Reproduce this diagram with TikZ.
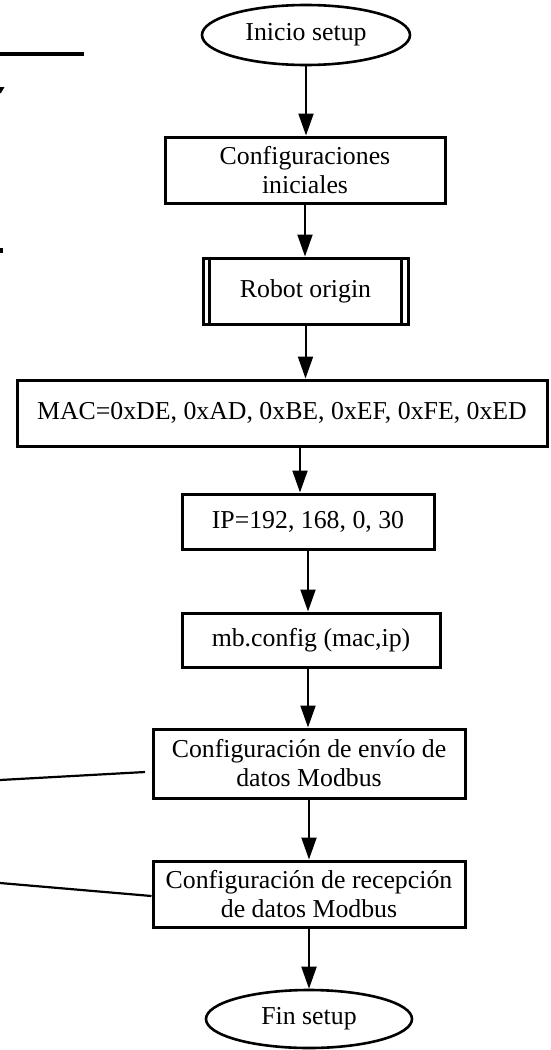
\documentclass[tikz,border=0pt]{standalone}
\usepackage{fontspec}
\setmainfont{Liberation Serif}
\usetikzlibrary{shapes.geometric,arrows.meta}
\tikzset{
  base/.style={align=center, inner sep=0pt, font=\fontsize{25.8}{29}\selectfont},
  proc/.style={base, draw, line width=3pt, rectangle},
  term/.style={base, draw, line width=2.6pt, ellipse},
  arr/.style={line width=2pt, -{Triangle[length=22pt,width=15pt]}},
  plain/.style={line width=2.2pt},
}
\begin{document}
\begin{tikzpicture}[x=1pt,y=-1pt]
\useasboundingbox (0,0) rectangle (551,1050);

% fragments at the left border
\draw[line width=3.5pt] (0,54) -- (84,54);
\fill (0,87) -- (4.5,87) -- (1,93) -- (0,93) -- cycle;
\fill (0,247.5) rectangle (2.5,252.5);

% flow chart
\node[term, minimum width=208, minimum height=60] (ini) at (306,35) {Inicio setup};
\node[proc, minimum width=280, minimum height=66] (cfg) at (305,170) {Configuraciones\\iniciales};
\node[proc, minimum width=205, minimum height=66] (rob) at (305.5,291) {Robot origin};
\draw[line width=2.4pt] ([xshift=8]rob.north west) -- ([xshift=8]rob.south west)
      ([xshift=-8]rob.north east) -- ([xshift=-8]rob.south east);
\node[proc, minimum width=530, minimum height=66] (mac) at (282,413) {MAC=0xDE, 0xAD, 0xBE, 0xEF, 0xFE, 0xED};
\node[proc, minimum width=252, minimum height=55] (ip) at (308,521.5) {IP=192, 168, 0, 30};
\node[proc, minimum width=258, minimum height=54] (mb) at (311,640) {mb.config (mac,ip)};
\node[proc, minimum width=312, minimum height=69] (env) at (309,763.5) {Configuración de envío de\\datos Modbus};
\node[proc, minimum width=312, minimum height=66] (rec) at (309,894) {Configuración de recepción\\de datos Modbus};
\node[term, minimum width=206, minimum height=58] (fin) at (309,1019) {Fin setup};

\draw[arr] (ini.south) -- (ini.south |- cfg.north);
\draw[arr] (cfg.south) -- (cfg.south |- rob.north);
\draw[arr] (rob.south) -- (rob.south |- mac.north);
\draw[arr] ([xshift=-8]ip.north |- mac.south) -- ([xshift=-8]ip.north);
\draw[arr] (ip.south) -- (ip.south |- mb.north);
\draw[arr] ([xshift=-3]mb.south) -- ([xshift=-3]mb.south |- env.north);
\draw[arr] (env.south) -- (rec.north);
\draw[arr] (rec.south) -- (fin.north);

% lines leaving to the left
\coordinate (e1) at (145,772);
\coordinate (l1) at (0,780);
\draw[plain] (l1) -- (e1);
\coordinate (l2) at (0,883);
\draw[plain] (l2) -- ([yshift=-2]rec.west);
\end{tikzpicture}
\end{document}
